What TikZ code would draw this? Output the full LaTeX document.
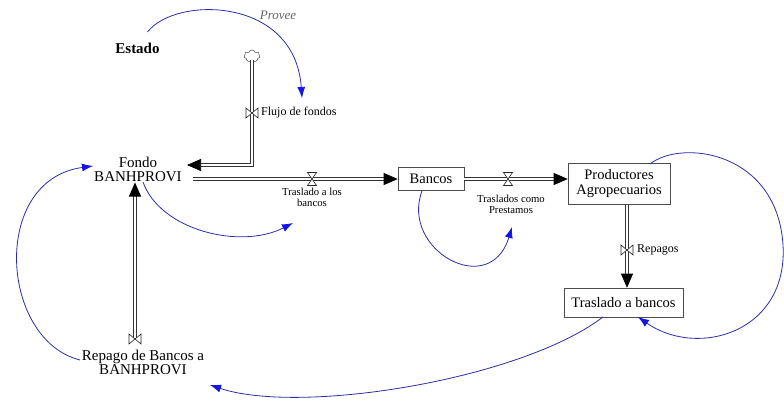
\documentclass[tikz,border=0pt]{standalone}
\usepackage{fontspec}
\setmainfont{Liberation Serif}
\usetikzlibrary{arrows.meta,shapes.symbols,calc}
\definecolor{infoline}{RGB}{45,45,165}
\definecolor{infotip}{RGB}{20,20,230}
\begin{document}
\begin{tikzpicture}[x=1pt,y=-1pt,
  bigtext/.style={font=\fontsize{15}{14}\selectfont, align=center, inner sep=1pt},
  smalltext/.style={font=\fontsize{10.7}{11}\selectfont, align=center, inner sep=0pt},
  valvetext/.style={font=\fontsize{12}{13}\selectfont, inner sep=0pt},
  stockbox/.style={draw=black!70, line width=0.6pt, font=\fontsize{14.5}{15}\selectfont, align=center, inner sep=0pt},
  pipe/.style={draw=black!80, line width=0.7pt, double=white, double distance=2.4pt},
  pipetip/.style={-{Triangle[length=14pt,width=12pt,color=black]}},
  info/.style={draw=infoline, line width=0.8pt, -{Latex[length=11pt,width=8pt,color=infotip]}},
  valveline/.style={draw=black!85, fill=white, line width=0.6pt}
]
\useasboundingbox (0,0) rectangle (784,404);

% nodes
\node[font=\fontsize{15}{15}\selectfont\bfseries, inner sep=0pt] (estado) at (137.5,48) {Estado};
\node[font=\fontsize{13}{13}\selectfont\itshape, text=black!60, inner sep=0pt] (provee) at (278,15) {Provee};
\node[cloud, cloud puffs=7, draw=black!70, fill=white, line width=0.5pt, minimum width=16pt, minimum height=12pt, inner sep=0pt] (cloud) at (252,56) {};
\coordinate (v1) at (252,113);
\node[valvetext, anchor=west] (flujolab) at (261,113) {Flujo de fondos};
\node[bigtext] (fondo) at (138,169) {Fondo\\BANHPROVI};
\coordinate (v2) at (312,179);
\node[smalltext] (tlab) at (312,197) {Traslado a los\\bancos};
\node[stockbox, minimum width=66pt, minimum height=23pt] (bancos) at (431,179) {Bancos};
\coordinate (v3) at (508,179);
\node[smalltext] (plab) at (511,204) {Traslados como\\Prestamos};
\node[stockbox, minimum width=102pt, minimum height=41pt] (prod) at (619,184) {Productores\\Agropecuarios};
\coordinate (v4) at (627,250);
\node[valvetext, anchor=west] (replab) at (637,250) {Repagos};
\node[stockbox, minimum width=119pt, minimum height=29pt] (tras) at (623.5,302.5) {Traslado a bancos};
\coordinate (v5) at (135,339);
\node[bigtext] (rlab) at (143,362) {Repago de Bancos a\\BANHPROVI};

% pipes
\draw[pipe,pipetip] (cloud.south) |- ($(fondo)+(49,-4)$);
\draw[pipe,pipetip] ($(fondo)+(55,10)$) -- (bancos.west);
\draw[pipe,pipetip] (bancos.east) -- (bancos.east -| prod.west);
\draw[pipe,pipetip] (v4 |- prod.south) -- (v4 |- tras.north);
\draw[pipe,pipetip] (v5) -- (v5 |- fondo.south);
\draw[pipe] ($(tras.west)+(0,3)$) -- ($(v5 |- tras.west)+(2.6,3)$);

% valves
\draw[valveline] ($(v1)+(-6,-5)$) -- ($(v1)+(6,5)$) -- ($(v1)+(6,-5)$) -- ($(v1)+(-6,5)$) -- cycle;
\draw[valveline] ($(v2)+(-4.5,-6.5)$) -- ($(v2)+(4.5,-6.5)$) -- ($(v2)+(-4.5,6.5)$) -- ($(v2)+(4.5,6.5)$) -- cycle;
\draw[valveline] ($(v3)+(-4.5,-6.5)$) -- ($(v3)+(4.5,-6.5)$) -- ($(v3)+(-4.5,6.5)$) -- ($(v3)+(4.5,6.5)$) -- cycle;
\draw[valveline] ($(v4)+(-6,-5)$) -- ($(v4)+(6,5)$) -- ($(v4)+(6,-5)$) -- ($(v4)+(-6,5)$) -- cycle;
\draw[valveline] ($(v5)+(-6,-5)$) -- ($(v5)+(6,5)$) -- ($(v5)+(6,-5)$) -- ($(v5)+(-6,5)$) -- cycle;

% information links
\draw[info] ($(estado)+(10,-16)$) .. controls +(27.5,-36) and +(-7,-102) .. ($(flujolab.west)+(41,-15)$);
\draw[info] ($(fondo)+(5,13)$) .. controls +(17,48) and +(-53,27) .. ($(tlab)+(-19,26)$);
\draw[info] ($(bancos)+(-9,12)$) .. controls +(-22,59) and +(-22,73) .. ($(plab)+(1,23)$);
\draw[info] ($(prod)+(31,-20)$) .. controls +(30,-24) and +(-12,-85) .. (782,235)
   .. controls +(13,95) and +(62,43) .. ($(tras)+(14.5,14.5)$);
\draw[info] ($(tras)+(-20.5,14.5)$) .. controls +(-83,63) and +(90,30) .. ($(rlab)+(67,23)$);
\draw[info] ($(rlab)+(-63,-2)$) .. controls +(-80,-20) and +(-103,14) .. ($(fondo)+(-45,-3)$);
\end{tikzpicture}
\end{document}
